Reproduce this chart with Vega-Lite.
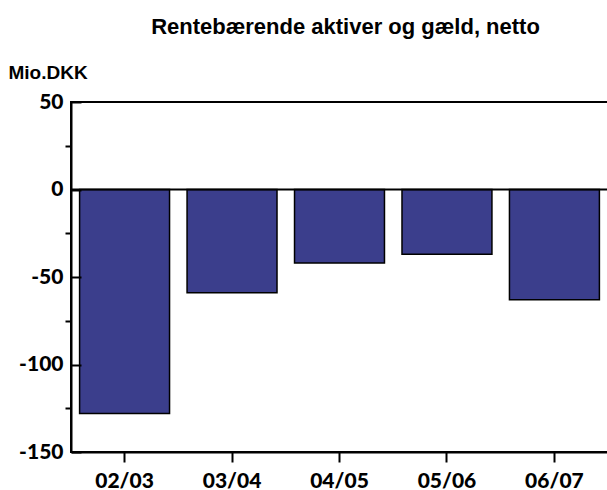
{
  "$schema": "https://vega.github.io/schema/vega-lite/v6.json",
  "width": 537,
  "height": 350,
  "autosize": {"type": "none"},
  "padding": {"left": 71, "top": 102, "right": 0, "bottom": 38},
  "background": "white",
  "config": {
    "view": {"stroke": "black", "strokeWidth": 2},
    "axis": {"domainColor": "black", "tickColor": "black", "labelColor": "black", "titleColor": "black", "grid": false}
  },
  "title": {
    "text": "Rentebærende aktiver og gæld, netto",
    "font": "Liberation Sans",
    "fontSize": 22,
    "fontWeight": "bold",
    "color": "black",
    "anchor": "middle",
    "offset": 24,
    "dx": 6
  },
  "data": {
    "values": [
      {"year": "02/03", "value": -128},
      {"year": "03/04", "value": -59},
      {"year": "04/05", "value": -42},
      {"year": "05/06", "value": -37},
      {"year": "06/07", "value": -63}
    ]
  },
  "layer": [
    {
      "mark": {"type": "bar", "color": "#3b3e8c", "stroke": "black", "strokeWidth": 1.5},
      "encoding": {
        "x": {
          "field": "year",
          "type": "nominal",
          "sort": null,
          "scale": {"paddingInner": 0.163, "paddingOuter": 0.08},
          "axis": {
            "title": null,
            "labelAngle": 0,
            "labelFont": "Lato",
            "labelFontWeight": 900,
            "labelFontSize": 21,
            "labelPadding": 8,
            "tickSize": 10,
            "tickWidth": 2,
            "domainWidth": 2
          }
        },
        "y": {
          "field": "value",
          "type": "quantitative",
          "scale": {"domain": [-150, 50], "nice": false, "zero": false},
          "axis": {
            "values": [-150, -100, -50, 0, 50],
            "labelExpr": "'' + datum.value",
            "title": "Mio.DKK",
            "titleAngle": 0,
            "titleX": -63,
            "titleY": -30,
            "titleAlign": "left",
            "titleBaseline": "middle",
            "titleFont": "Liberation Sans",
            "titleFontSize": 19,
            "titleFontWeight": "bold",
            "labelFont": "Lato",
            "labelFontWeight": 900,
            "labelFontSize": 21,
            "labelPadding": 18,
            "tickSize": -10,
            "tickWidth": 2,
            "domainWidth": 2,
            "zindex": 1
          }
        }
      }
    },
    {
      "data": {"values": [{"v": 0}]},
      "mark": {"type": "rule", "color": "black", "strokeWidth": 2},
      "encoding": {
        "y": {
          "field": "v",
          "type": "quantitative",
          "axis": {
            "orient": "left",
            "values": [-125, -75, -25, 25],
            "labels": false,
            "title": null,
            "domain": false,
            "tickSize": 6,
            "tickWidth": 2
          }
        }
      }
    }
  ],
  "resolve": {"axis": {"y": "independent"}}
}
